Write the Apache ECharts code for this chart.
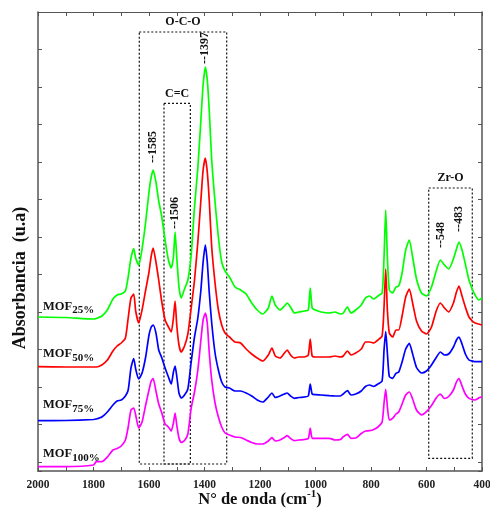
<!DOCTYPE html>
<html>
<head>
<meta charset="utf-8">
<script src="https://cdn.jsdelivr.net/npm/echarts@6/dist/echarts.min.js"></script>
<style>
  html, body { margin: 0; padding: 0; background: #fff; }
  #main { width: 490px; height: 513px; }
</style>
</head>
<body>
<div id="main"></div>
<script>
// Espectros FTIR (absorbancia en u.a., desplazados verticalmente)
const numeroOnda = [2000, 1900, 1800, 1790, 1770, 1750, 1730, 1715, 1700, 1685, 1675, 1665, 1655, 1648, 1637,
    1625, 1612, 1600, 1592, 1585, 1575, 1565, 1555, 1542, 1530, 1520, 1512, 1506, 1500, 1492, 1484, 1472,
    1460, 1448, 1436, 1424, 1413, 1405, 1397, 1390, 1383, 1374, 1362, 1350, 1338, 1326, 1310, 1290, 1270,
    1250, 1230, 1210, 1190, 1170, 1157, 1145, 1128, 1112, 1102, 1090, 1076, 1060, 1040, 1026, 1019, 1012,
    1000, 980, 950, 930, 910, 900, 885, 872, 855, 835, 820, 805, 790, 775, 760, 753, 747, 741, 734, 722,
    710, 700, 688, 675, 662, 650, 636, 618, 600, 582, 565, 550, 535, 520, 503, 492, 483, 472, 460, 447,
    435, 425, 412, 400];

const mof25 = [154, 153.5, 152, 152.5, 155, 161, 172, 176, 177, 180, 194, 213, 222.5, 213, 206,
    222, 249, 279, 294, 301, 289, 270, 256, 231, 211, 203, 214, 239, 214, 184, 173, 182,
    191, 216, 264, 303, 351, 386, 404, 391, 361, 311, 269, 234, 209, 200, 194, 184, 181,
    177, 168, 161, 157, 163, 175, 166, 161, 165, 168, 164, 158, 159, 160, 161, 183, 163,
    161, 159, 158, 159, 157, 158, 164, 158, 161, 166, 173, 175, 172, 175, 178, 214, 261, 214, 181, 178,
    184, 185, 198, 221, 231, 214, 192, 178, 175, 184, 200, 211, 206, 202, 212, 222, 229, 221, 207, 191,
    182, 176, 171, 173];

const mof50 = [104.3, 104, 104, 104, 106, 111, 120, 125, 128, 133, 153, 173, 177, 160, 148,
    161, 181, 199, 215, 223, 209, 191, 171, 151, 144, 139, 153, 170, 146, 126, 119, 125,
    137, 163, 191, 229, 271, 301, 313, 299, 271, 224, 188, 161, 146, 138, 134, 129, 128,
    122, 117, 113, 110, 116, 123, 115, 113, 118, 121, 116, 113, 114, 114, 116, 132, 115,
    114, 114, 114, 115, 114, 115, 120, 116, 118, 122, 129, 129, 128, 131, 135, 164, 202, 161, 138, 134,
    141, 141, 155, 174, 182, 168, 150, 140, 137, 144, 160, 168, 163, 159, 168, 179, 185, 175, 164, 154,
    150, 148, 147, 146];

const mof75 = [50.3, 50.5, 51.5, 52, 54, 59, 66, 70, 71, 75, 81, 103, 112.5, 102, 92,
    98, 114, 136, 144, 146, 138, 121, 114, 103, 94, 87, 99, 105, 95, 78, 73, 76,
    82, 109, 134, 153, 181, 209, 226, 209, 179, 148, 118, 101, 89, 84, 83, 80, 80,
    78, 75, 71, 69, 74, 78, 73.5, 75, 77, 78, 75, 72.7, 73.5, 74, 75, 87, 77,
    76.3, 76, 75.3, 75, 75, 77, 80.3, 76, 77, 80, 84.5, 86, 84.5, 87, 90, 121, 139.3, 118, 94.3, 92.7,
    97.7, 99, 109, 122, 127.7, 117, 103.5, 98, 100, 106, 113.5, 119, 116, 117, 124, 131, 134, 127, 117, 111,
    110, 109.3, 109.3, 109.3];

const mof100 = [4.3, 4.3, 6, 9.3, 9.3, 14, 21, 22.5, 25, 31, 44, 61, 63, 56, 43,
    49, 66, 81, 90, 92.5, 80, 67, 59, 47, 44, 40, 48, 58, 46, 33, 28.5, 30.5,
    37, 63, 79, 101, 131, 151, 158, 148, 119, 91, 68, 54, 44, 38, 36, 34, 33.5,
    31, 28.5, 27, 27, 30, 33.3, 30, 31, 33.5, 35.3, 32.5, 30.3, 31, 31.5, 32.5, 42.7, 32.7,
    32.7, 32.7, 32.7, 31, 31.5, 34.3, 36.7, 32.7, 33, 37.5, 40, 40.3, 41.5, 44, 49, 68, 81.7, 64.3, 51, 52.7,
    57, 59, 67, 76, 79, 72, 61, 56, 59.3, 65.5, 73, 77, 72.5, 74.5, 81, 89, 92.5, 85, 77, 72.7,
    71.5, 71, 73, 74.3];

const nombres = ['MOF{s|25%}', 'MOF{s|50%}', 'MOF{s|75%}', 'MOF{s|100%}'];
const colores = ['#00ff00', '#ff0000', '#0000ff', '#ff00ff'];
const espectros = [mof25, mof50, mof75, mof100];

// Zonas de bandas: [desde, hasta, abajo, arriba]
const zonas = [
    {nombre: 'O-C-O', rango: [1635, 1320, 7, 439]},
    {nombre: 'C=C', rango: [1546, 1451, 7, 367.7]},
    {nombre: 'Zr-O', rango: [592, 435, 12.7, 283]}
];

// Picos marcados sobre MOF25%
const picos = [1585, 1506, 1397, 548, 483];

const fuente = '"Liberation Serif", "DejaVu Serif", serif';

const myChart = echarts.init(document.getElementById('main'));

const ticksY = {
    type: 'value',
    inverse: true,
    min: 0,
    max: 459,
    interval: 37.5,
    axisLine: {show: false},
    axisTick: {show: true, inside: true, length: 4, lineStyle: {color: '#555', width: 1}},
    axisLabel: {show: false},
    splitLine: {show: false}
};

let option = {
    animation: false,
    backgroundColor: '#fff',
    grid: {left: 38, right: 8, top: 12, bottom: 42, outerBoundsMode: 'none', containLabel: false},
    xAxis: [
        {
            type: 'value',
            inverse: true,
            min: 400,
            max: 2000,
            interval: 200,
            name: 'N° de onda (cm{sup|-1})',
            nameLocation: 'middle',
            nameGap: 18,
            nameMoveOverlap: false,
            nameTextStyle: {
                fontFamily: fuente, fontWeight: 'bold', fontSize: 16.5, color: '#111',
                rich: {sup: {fontFamily: fuente, fontWeight: 'bold', fontSize: 11, color: '#111', verticalAlign: 'top', lineHeight: 22}}
            },
            axisLine: {lineStyle: {color: '#555', width: 1.5}},
            axisTick: {inside: true, length: 4, lineStyle: {color: '#555'}},
            minorTick: {show: true, splitNumber: 2, length: 4, lineStyle: {color: '#555'}},
            axisLabel: {
                fontFamily: fuente, fontWeight: 'bold', fontSize: 11.5, color: '#222', margin: 8,
                formatter: v => String(v)
            },
            splitLine: {show: false}
        },
        {
            type: 'value',
            position: 'top',
            inverse: true,
            min: 400,
            max: 2000,
            interval: 200,
            axisLine: {show: true, lineStyle: {color: '#555', width: 1.2}},
            axisTick: {inside: true, length: 4, lineStyle: {color: '#555'}},
            minorTick: {show: true, splitNumber: 2, length: 4, lineStyle: {color: '#555'}},
            axisLabel: {show: false},
            splitLine: {show: false}
        }
    ],
    yAxis: [
        {
            type: 'value',
            position: 'left',
            min: 0,
            max: 459,
            axisLine: {show: true, lineStyle: {color: '#555', width: 1.5}},
            axisTick: {show: false},
            axisLabel: {show: false},
            splitLine: {show: false}
        },
        Object.assign({position: 'left'}, ticksY),
        Object.assign({}, ticksY, {position: 'right', axisLine: {show: true, lineStyle: {color: '#555', width: 1.5}}})
    ],
    series: espectros.map((valores, i) => ({
        name: nombres[i],
        type: 'line',
        xAxisIndex: 0,
        yAxisIndex: 0,
        data: numeroOnda.map((w, j) => [w, valores[j]]),
        showSymbol: false,
        smooth: 0.2,
        lineStyle: {color: colores[i], width: 1.7},
        z: 3
    }))
};

// Recuadros punteados de las bandas
option.series.push({
    type: 'line',
    data: [],
    xAxisIndex: 0,
    yAxisIndex: 0,
    markArea: {
        silent: true,
        itemStyle: {color: 'rgba(0,0,0,0)', borderColor: '#111', borderWidth: 1.2, borderType: [2, 2]},
        label: {show: true, position: 'top', distance: 3, fontFamily: fuente, fontWeight: 'bold', fontSize: 12, color: '#111'},
        data: zonas.map(z => [
            {name: z.nombre, coord: [z.rango[0], z.rango[3]]},
            {coord: [z.rango[1], z.rango[2]]}
        ])
    }
});

myChart.setOption(option);

// Textos sobre la gráfica
const graficos = [];

// título del eje Y (algo por debajo del centro, como en el original)
graficos.push({
    type: 'text',
    x: 20,
    y: 278,
    rotation: Math.PI / 2,
    style: {text: 'Absorbancia  (u.a)', font: 'bold 18px ' + fuente, fill: '#111', align: 'center', verticalAlign: 'middle'}
});

const separacionPico = [7, 3, 3, 12, 10];
picos.forEach((p, k) => {
    // valor del espectro verde más cercano al pico
    let idx = 0;
    numeroOnda.forEach((w, j) => { if (Math.abs(w - p) < Math.abs(numeroOnda[idx] - p)) idx = j; });
    const pt = myChart.convertToPixel({xAxisIndex: 0, yAxisIndex: 0}, [p, mof25[idx]]);
    graficos.push({
        type: 'text',
        x: pt[0],
        y: pt[1] - separacionPico[k],
        rotation: Math.PI / 2,
        style: {text: '--' + p, font: 'bold 12px ' + fuente, fill: '#111', align: 'left', verticalAlign: 'middle'},
        z: 10
    });
});

const alturaEtiqueta = [20, 22, 25, 22];
espectros.forEach((valores, i) => {
    const pt = myChart.convertToPixel({xAxisIndex: 0, yAxisIndex: 0}, [1982, valores[0]]);
    graficos.push({
        type: 'text',
        x: pt[0],
        y: pt[1] - alturaEtiqueta[i],
        style: {
            text: nombres[i],
            fill: '#111',
            font: 'bold 12.5px ' + fuente,
            align: 'left',
            verticalAlign: 'top',
            rich: {
                s: {font: 'bold 11px ' + fuente, fill: '#111', verticalAlign: 'bottom', lineHeight: 19}
            },
            lineHeight: 19
        },
        z: 10
    });
});

myChart.setOption({graphic: graficos});
</script>
</body>
</html>
